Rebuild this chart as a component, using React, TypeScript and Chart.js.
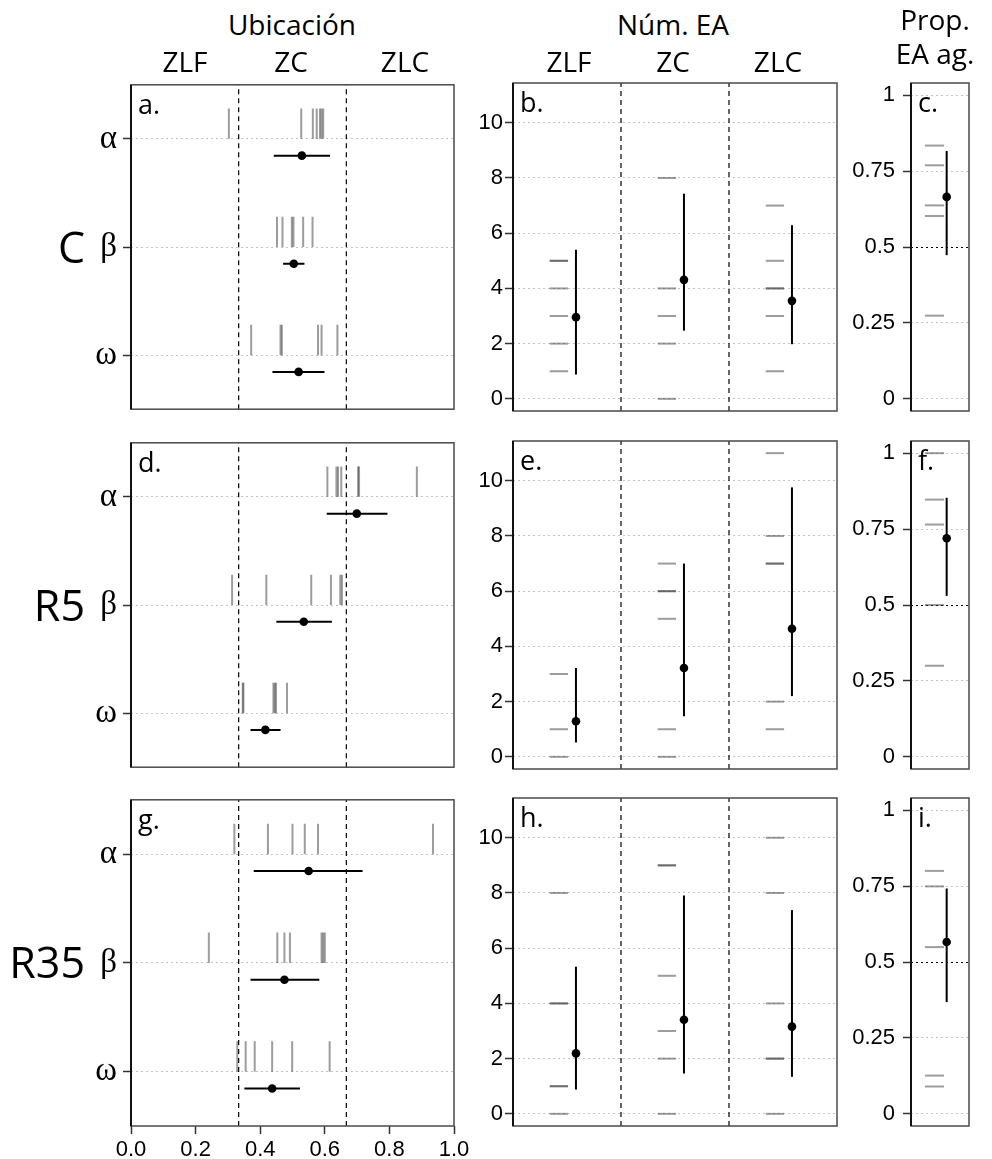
import React, { useEffect, useRef } from "react";
import { Chart, registerables } from "chart.js";

Chart.register(...registerables);

// ---------- labels ----------
const headerLoc = "Ubicación";
const headerNum = "Núm. EA";
const headerProp = ["Prop.", "EA ag."];
const zoneLabels = ["ZLF", "ZC", "ZLC"];
const rowLabels = ["α", "β", "ω"]; // top to bottom
const treatmentLabels = ["C", "R5", "R35"];
const panelLetters = [
  ["a.", "b.", "c."],
  ["d.", "e.", "f."],
  ["g.", "h.", "i."],
];

// ---------- axis ticks ----------
const zoneBounds = [1 / 3, 2 / 3];
const numZoneBounds = [1, 2];
const locTicks = [0, 0.2, 0.4, 0.6, 0.8, 1];
const numTicks = [0, 2, 4, 6, 8, 10];
const propTicks = [0, 0.25, 0.5, 0.75, 1];

// ---------- Ubicación (rows α, β, ω) ----------
const locRugC = [
  [0.303, 0.527, 0.563, 0.575, 0.585, 0.59, 0.595],
  [0.452, 0.469, 0.498, 0.503, 0.533, 0.562],
  [0.372, 0.463, 0.467, 0.579, 0.59, 0.639],
];
const locRugR5 = [
  [0.608, 0.636, 0.641, 0.651, 0.703, 0.706, 0.885],
  [0.313, 0.419, 0.558, 0.619, 0.648, 0.653],
  [0.346, 0.348, 0.441, 0.445, 0.449, 0.483],
];
const locRugR35 = [
  [0.32, 0.424, 0.5, 0.538, 0.579, 0.935],
  [0.241, 0.453, 0.475, 0.492, 0.59, 0.595, 0.6],
  [0.329, 0.355, 0.383, 0.437, 0.499, 0.615],
];
const locMeanC = [0.529, 0.504, 0.519];
const locLowC = [0.442, 0.471, 0.438];
const locHighC = [0.616, 0.537, 0.599];
const locMeanR5 = [0.699, 0.535, 0.416];
const locLowR5 = [0.606, 0.45, 0.37];
const locHighR5 = [0.794, 0.622, 0.463];
const locMeanR35 = [0.55, 0.475, 0.437];
const locLowR35 = [0.38, 0.37, 0.351];
const locHighR35 = [0.717, 0.583, 0.523];

// ---------- Núm. EA (zones ZLF, ZC, ZLC) ----------
const numRugC = [
  [5, 5, 4, 3, 2, 1],
  [8, 4, 3, 2, 0],
  [7, 5, 4, 4, 3, 1],
];
const numRugR5 = [
  [3, 1, 0],
  [7, 6, 6, 5, 1, 0],
  [11, 8, 7, 7, 2, 1],
];
const numRugR35 = [
  [8, 4, 4, 1, 1, 0],
  [9, 9, 5, 3, 2, 0],
  [10, 8, 4, 2, 2, 0],
];
const numMeanC = [2.96, 4.31, 3.55];
const numLowC = [0.88, 2.47, 1.98];
const numHighC = [5.4, 7.43, 6.29];
const numMeanR5 = [1.29, 3.22, 4.64];
const numLowR5 = [0.52, 1.47, 2.2];
const numHighR5 = [3.22, 7.0, 9.76];
const numMeanR35 = [2.19, 3.41, 3.16];
const numLowR35 = [0.88, 1.46, 1.34];
const numHighR35 = [5.33, 7.91, 7.38];

// ---------- Prop. EA ag. ----------
const propRugC = [0.834, 0.769, 0.637, 0.602, 0.274];
const propRugR5 = [1.0, 0.847, 0.765, 0.5, 0.3];
const propRugR35 = [0.8, 0.749, 0.549, 0.126, 0.09];
const propMean = [0.665, 0.72, 0.566];
const propLow = [0.473, 0.53, 0.368];
const propHigh = [0.816, 0.853, 0.742];

const locData = [
  { rug: locRugC, mean: locMeanC, low: locLowC, high: locHighC },
  { rug: locRugR5, mean: locMeanR5, low: locLowR5, high: locHighR5 },
  { rug: locRugR35, mean: locMeanR35, low: locLowR35, high: locHighR35 },
];
const numData = [
  { rug: numRugC, mean: numMeanC, low: numLowC, high: numHighC },
  { rug: numRugR5, mean: numMeanR5, low: numLowR5, high: numHighR5 },
  { rug: numRugR35, mean: numMeanR35, low: numLowR35, high: numHighR35 },
];
const propRugs = [propRugC, propRugR5, propRugR35];

// ---------- style / layout ----------
const RUG = "rgba(60,60,60,0.5)";
const GRID = "#c4c4c4";
const PAD = 24;
const ROW_TOPS = [83, 441, 798];
const PANEL_H = 328;
const COLS = {
  loc: { left: 131, right: 454, axisW: 45 },
  num: { left: 513, right: 837, axisW: 53 },
  prop: { left: 911, right: 969, axisW: 66 },
};
const BOTTOM_AXIS_H = 40;
const tickFont = { family: "'Liberation Sans', Arial, sans-serif", size: 22 };
const greekFont = { family: "'Liberation Serif', 'Times New Roman', serif", size: 33 };

const framePlugin = {
  id: "frame",
  afterDatasetsDraw(chart: any, _args: any, opts: any) {
    const { ctx, chartArea: a } = chart;
    ctx.save();
    ctx.strokeStyle = "#4a4a4a";
    ctx.lineWidth = 1.5;
    ctx.strokeRect(a.left, a.top, a.right - a.left, a.bottom - a.top);
    ctx.strokeStyle = "#111";
    ctx.lineWidth = 2;
    ctx.beginPath();
    ctx.moveTo(a.left, a.top);
    ctx.lineTo(a.left, a.bottom);
    ctx.stroke();
    ctx.fillStyle = "#000";
    ctx.font = "27px 'Open Sans', sans-serif";
    ctx.textBaseline = "alphabetic";
    ctx.textAlign = "left";
    ctx.fillText(opts.letter || "", a.left + 7, a.top + 29);
    ctx.restore();
  },
};

const seg = (pts: any[], color: string, width: number, dash: number[] = []) => ({
  data: pts,
  showLine: true,
  borderColor: color,
  backgroundColor: color,
  borderWidth: width,
  borderDash: dash,
  pointRadius: 0,
  pointHoverRadius: 0,
  fill: false,
  tension: 0,
});
const dot = (x: number, y: number) => ({
  data: [{ x, y }],
  showLine: false,
  pointRadius: 4.3,
  pointHoverRadius: 4.3,
  pointBorderWidth: 0,
  backgroundColor: "#000",
  borderColor: "#000",
});

const fixTicks = (vals: number[]) => (s: any) => {
  s.ticks = vals.map((v) => ({ value: v }));
};

function yAxis(min: number, max: number, ticks: number[], cb: (v: number) => string, font: any, padding: number, axisW: number, gridColor?: (c: any) => string) {
  return {
    type: "linear",
    min,
    max,
    afterBuildTicks: fixTicks(ticks),
    afterFit: (s: any) => {
      s.width = axisW;
    },
    ticks: { callback: (v: any) => cb(Number(v)), font, color: "#000", padding, autoSkip: false },
    grid: {
      color: gridColor || GRID,
      lineWidth: 1,
      borderDash: [2, 3],
      tickLength: 8,
      tickColor: "#333",
      tickWidth: 1.5,
      tickBorderDash: [],
    },
    border: { display: false, dash: [2, 3] },
  };
}

function baseOptions(letter: string, scales: any) {
  return {
    responsive: false,
    maintainAspectRatio: false,
    animation: false,
    events: [],
    layout: { padding: PAD },
    plugins: { legend: { display: false }, tooltip: { enabled: false }, frame: { letter } },
    scales,
  };
}

function locConfig(t: number) {
  const d = locData[t];
  const datasets: any[] = [];
  zoneBounds.forEach((b) => datasets.push(seg([{ x: b, y: 0.5 }, { x: b, y: 3.5 }], "#000", 1.2, [5, 4])));
  d.rug.forEach((vals, r) => {
    const yRow = rowLabels.length - r;
    vals.forEach((v) => datasets.push(seg([{ x: v, y: yRow }, { x: v, y: yRow + 0.28 }], RUG, 2)));
  });
  d.mean.forEach((m, r) => {
    const y = rowLabels.length - r - 0.155;
    datasets.push(seg([{ x: d.low[r], y }, { x: d.high[r], y }], "#000", 2));
    datasets.push(dot(m, y));
  });
  const showX = t === 2;
  const xAxis: any = {
    type: "linear",
    min: 0,
    max: 1,
    display: showX,
  };
  if (showX) {
    Object.assign(xAxis, {
      afterBuildTicks: fixTicks(locTicks),
      afterFit: (s: any) => {
        s.height = BOTTOM_AXIS_H;
      },
      ticks: { callback: (v: any) => Number(v).toFixed(1), font: tickFont, color: "#000", padding: 3, maxRotation: 0, autoSkip: false },
      grid: { drawOnChartArea: false, tickLength: 8, tickColor: "#333", tickWidth: 1.5 },
      border: { display: false },
    });
  }
  return {
    type: "scatter",
    data: { datasets },
    options: baseOptions(panelLetters[t][0], {
      x: xAxis,
      y: yAxis(0.5, 3.5, [1, 2, 3], (v) => rowLabels[rowLabels.length - v], greekFont, 6, COLS.loc.axisW),
    }),
    plugins: [framePlugin],
  };
}

function numConfig(t: number) {
  const d = numData[t];
  const datasets: any[] = [];
  numZoneBounds.forEach((b) => datasets.push(seg([{ x: b, y: -0.44 }, { x: b, y: 11.44 }], "#000", 1.2, [5, 4])));
  d.rug.forEach((vals, z) => {
    const c = z + 0.5;
    vals.forEach((v) => datasets.push(seg([{ x: c - 0.16, y: v }, { x: c + 0.01, y: v }], RUG, 2)));
  });
  d.mean.forEach((m, z) => {
    const x = z + 0.5 + 0.083;
    datasets.push(seg([{ x, y: d.low[z] }, { x, y: d.high[z] }], "#000", 2));
    datasets.push(dot(x, m));
  });
  return {
    type: "scatter",
    data: { datasets },
    options: baseOptions(panelLetters[t][1], {
      x: { type: "linear", min: 0, max: zoneLabels.length, display: false },
      y: yAxis(-0.44, 11.44, numTicks, (v) => String(v), tickFont, 2, COLS.num.axisW),
    }),
    plugins: [framePlugin],
  };
}

function propConfig(t: number) {
  const datasets: any[] = [];
  propRugs[t].forEach((v) => datasets.push(seg([{ x: 0.24, y: v }, { x: 0.57, y: v }], RUG, 2)));
  datasets.push(seg([{ x: 0.615, y: propLow[t] }, { x: 0.615, y: propHigh[t] }], "#000", 2));
  datasets.push(dot(0.615, propMean[t]));
  return {
    type: "scatter",
    data: { datasets },
    options: baseOptions(panelLetters[t][2], {
      x: { type: "linear", min: 0, max: 1, display: false },
      y: yAxis(-0.04, 1.04, propTicks, (v) => String(v), tickFont, 8, COLS.prop.axisW, (c: any) =>
        c.tick && c.tick.value === 0.5 ? "#000" : GRID
      ),
    }),
    plugins: [framePlugin],
  };
}

function Panel({ left, top, width, height, make }: any) {
  const ref = useRef<HTMLCanvasElement>(null);
  useEffect(() => {
    const chart = new Chart(ref.current as HTMLCanvasElement, make() as any);
    return () => chart.destroy();
  }, []);
  return (
    <canvas
      ref={ref}
      width={width}
      height={height}
      style={{ position: "absolute", left, top, width, height }}
    />
  );
}

const textBase: React.CSSProperties = {
  position: "absolute",
  fontFamily: "'Open Sans', sans-serif",
  fontSize: 28,
  lineHeight: "28px",
  color: "#000",
  whiteSpace: "nowrap",
};

export default function App() {
  const panels: any[] = [];
  ROW_TOPS.forEach((top, t) => {
    (["loc", "num", "prop"] as const).forEach((kind) => {
      const col = COLS[kind];
      const bottomAxis = kind === "loc" && t === 2 ? BOTTOM_AXIS_H : 0;
      const left = col.left - col.axisW - PAD;
      const width = col.right - col.left + col.axisW + 2 * PAD;
      const height = PANEL_H + bottomAxis + 2 * PAD;
      const make = kind === "loc" ? () => locConfig(t) : kind === "num" ? () => numConfig(t) : () => propConfig(t);
      panels.push(<Panel key={kind + t} left={left} top={top - PAD} width={width} height={height} make={make} />);
    });
  });
  const locZoneX = [185, 291, 405];
  const numZoneX = [569, 673, 778];
  const centered = (x: number, y: number, s: string, extra: any = {}) => (
    <div key={s + x + y} style={{ ...textBase, left: x, top: y, transform: "translateX(-50%)", ...extra }}>
      {s}
    </div>
  );
  return (
    <div style={{ position: "absolute", left: 0, top: 0, width: 992, height: 1159, background: "#fff", overflow: "hidden" }}>
      {panels}
      {centered(292, 10, headerLoc)}
      {centered(673, 10, headerNum)}
      {centered(935, 5, headerProp[0])}
      {centered(935, 39, headerProp[1])}
      {zoneLabels.map((z, i) => centered(locZoneX[i], 47, z))}
      {zoneLabels.map((z, i) => centered(numZoneX[i], 47, z))}
      {treatmentLabels.map((s, i) => (
        <div
          key={s}
          style={{
            ...textBase,
            fontSize: 43,
            lineHeight: "43px",
            left: 0,
            width: 85,
            textAlign: "right",
            top: ROW_TOPS[i] + 142,
          }}
        >
          {s}
        </div>
      ))}
    </div>
  );
}
